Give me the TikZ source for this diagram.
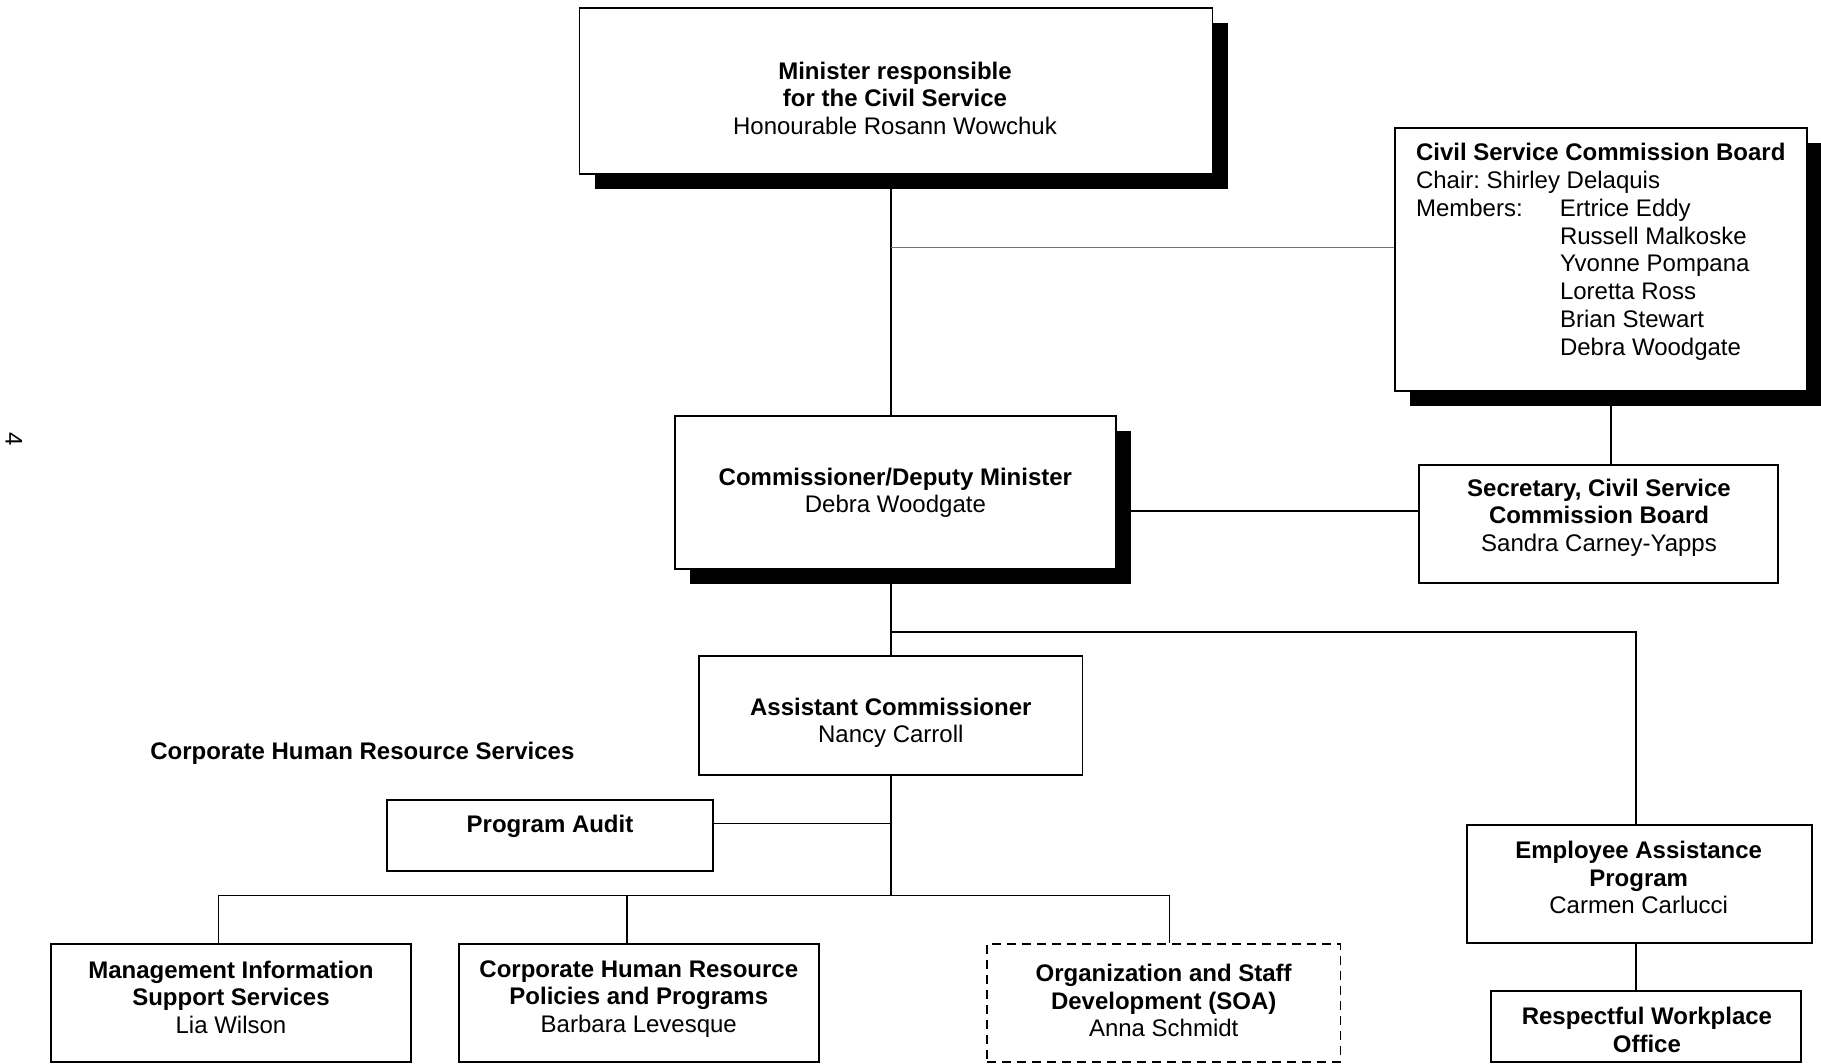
\documentclass[tikz,border=0pt]{standalone}
\usepackage{fontspec}
\setmainfont{Liberation Sans}
\usetikzlibrary{shadows}
\frenchspacing
\begin{document}
\begin{tikzpicture}[x=1pt,y=-1pt,
  box/.style={rectangle, draw=black, line width=1.8pt, fill=white, inner sep=0pt},
  shadowed/.style={drop shadow={shadow xshift=15pt,shadow yshift=-15pt,fill=black,opacity=1}},
  dashbox/.style={rectangle, draw=black, line width=1.6pt, dash pattern=on 9pt off 6pt, fill=white, inner sep=0pt},
  conn/.style={line width=1.6pt, black},
  thinline/.style={line width=1pt, black!55},
  txt/.style={align=center, inner sep=0pt, font=\fontsize{24}{27.5}\selectfont},
  ltxt/.style={align=left, inner sep=0pt, font=\fontsize{24}{27.8}\selectfont}]
\useasboundingbox (0,0) rectangle (1821,1064);
\fill[white] (0,0) rectangle (1821,1064);

% boxes
\node[box, shadowed, minimum width=633pt, minimum height=166.1pt] (min) at (896,91.15) {};
\node[box, shadowed, minimum width=412.3pt, minimum height=263.6pt] (csc) at (1600.95,259.6) {};
\node[box, shadowed, minimum width=441.3pt, minimum height=153.3pt] (com) at (895.45,492.45) {};
\node[box, minimum width=358.9pt, minimum height=118.4pt] (sec) at (1598.65,523.8) {};
\node[box, minimum width=383.2pt, minimum height=118.5pt] (asst) at (890.8,715.45) {};
\node[box, minimum width=326.4pt, minimum height=70.9pt] (pa) at (549.9,835.65) {};
\node[box, minimum width=360pt, minimum height=117.8pt] (miss) at (231.1,1003.1) {};
\node[box, minimum width=360.1pt, minimum height=117.8pt] (chr) at (638.75,1003.1) {};
\node[dashbox, minimum width=353.1pt, minimum height=117.8pt] (osd) at (1163.75,1003.1) {};
\node[box, minimum width=344.9pt, minimum height=118.5pt] (eap) at (1639.35,883.85) {};
\node[box, minimum width=310pt, minimum height=71.3pt] (rwo) at (1646.3,1026.35) {};

% texts
\node[txt] (tmin) at (895,98) {\textbf{Minister responsible}\\\textbf{for the Civil Service}\\Honourable Rosann Wowchuk};
\node[ltxt, anchor=west] (tcsc) at (1415.8,251.8) {\textbf{Civil Service Commission Board}\\
Chair: Shirley Delaquis\\
\makebox[144pt][l]{Members:}Ertrice Eddy\\
\hspace*{144pt}Russell Malkoske\\
\hspace*{144pt}Yvonne Pompana\\
\hspace*{144pt}Loretta Ross\\
\hspace*{144pt}Brian Stewart\\
\hspace*{144pt}Debra Woodgate};
\node[txt] (tcom) at (895.4,493) {\textbf{Commissioner/Deputy Minister}\\Debra Woodgate};
\node[txt] (tsec) at (1599,517.5) {\textbf{Secretary, Civil Service}\\\textbf{Commission Board}\\Sandra Carney-Yapps};
\node[txt] (tasst) at (890.8,723) {\textbf{Assistant Commissioner}\\Nancy Carroll};
\node[txt] (tchrs) at (362.4,753) {\textbf{Corporate Human Resource Services}};
\node[txt] (tpa) at (550,826) {\textbf{Program Audit}};
\node[txt] (tmiss) at (231,997) {\textbf{Management Information}\\\textbf{Support Services}\\Lia Wilson};
\node[txt] (tchr) at (638.8,999) {\textbf{Corporate Human Resource}\\\textbf{Policies and Programs}\\Barbara Levesque};
\node[txt] (tosd) at (1163.7,1000.5) {\textbf{Organization and Staff}\\\textbf{Development (SOA)}\\Anna Schmidt};
\node[txt] (teap) at (1638.7,877.5) {\textbf{Employee Assistance}\\\textbf{Program}\\Carmen Carlucci};
\node[txt] (trwo) at (1646.9,1030) {\textbf{Respectful Workplace}\\\textbf{Office}};
\node[txt, rotate=-90] (pg) at (14,439) {4};

% helper coordinates
\coordinate (tx) at (891,0);
\coordinate (cx) at (1611,0);
\coordinate (ex) at (1636,0);
\coordinate (gy) at (0,247.4);
\coordinate (sy) at (0,511);
\coordinate (ey) at (0,631.8);
\coordinate (py) at (0,823.4);
\coordinate (by) at (0,895.4);
\coordinate (d1) at (218.3,0);
\coordinate (d2) at (627.2,0);
\coordinate (d3) at (1169.5,0);

% connectors
\draw[conn] (min.south -| tx) -- (com.north -| tx);
\draw[thinline] (tx |- gy) -- (csc.west |- gy);
\draw[conn] (csc.south -| cx) -- (sec.north -| cx);
\draw[conn] (com.east |- sy) -- (sec.west |- sy);
\draw[conn] (com.south -| tx) -- (asst.north -| tx);
\draw[conn] (tx |- ey) -| (eap.north -| ex);
\draw[conn] (eap.south -| ex) -- (rwo.north -| ex);
\draw[conn] (asst.south -| tx) -- (tx |- by);
\draw[conn] (pa.east |- py) -- (tx |- py);
\draw[conn] (miss.north -| d1) |- (by -| d3) -- (osd.north -| d3);
\draw[conn] (by -| d2) -- (chr.north -| d2);
\end{tikzpicture}
\end{document}
